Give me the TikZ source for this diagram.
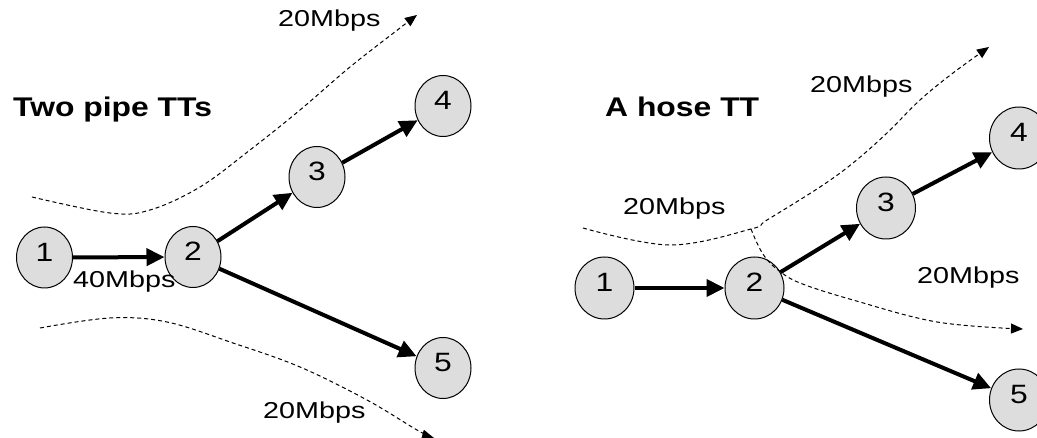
\documentclass[tikz,border=0pt]{standalone}
\usepackage{fontspec}
\setmainfont{Liberation Sans}
\newfontfamily\labfont[FakeStretch=1.25]{Liberation Sans}
\newfontfamily\numfont[FakeStretch=1.2]{Liberation Sans}
\newfontfamily\titfont[FakeStretch=1.18]{Liberation Sans}
\usetikzlibrary{shapes.geometric,arrows.meta}
\definecolor{nodegray}{HTML}{DDDDDD}
\tikzset{
  tnode/.style={ellipse, draw, line width=1pt, fill=nodegray, inner sep=0pt,
    minimum width=56pt, minimum height=61pt,
    font=\numfont\fontsize{26.5}{26.5}\selectfont, text depth=11pt},
  tnodeR/.style={tnode, minimum width=59pt, minimum height=62pt},
  link/.style={line width=4pt, -{Triangle[length=18pt,width=17pt]}},
  flow/.style={line width=1pt, dash pattern=on 4pt off 3pt,
    -{Triangle[length=12pt,width=10pt]}},
  lab/.style={font=\labfont\fontsize{23}{23}\selectfont, inner sep=0pt, anchor=base west},
  tit/.style={font=\titfont\bfseries\fontsize{27}{27}\selectfont, inner sep=0pt, anchor=base west}
}
\begin{document}
\begin{tikzpicture}[x=1pt,y=-1pt]
\useasboundingbox (0,0) rectangle (1037,438);
% ---------- left: two pipe TTs ----------
\node[tnode] (l1) at (44.5,257.5) {1};
\node[tnode] (l2) at (193,257) {2};
\node[tnode] (l3) at (317,177) {3};
\node[tnode] (l4) at (443,106) {4};
\node[tnode] (l5) at (443,368) {5};
\draw[link] (l1) -- (l2);
\draw[link] (l2) -- (l3);
\draw[link] (l3) -- (l4);
\draw[link] (l2) -- (l5);
\draw[flow] plot[smooth, tension=0.6] coordinates {(32,197) (110,213) (150,210) (200,187) (250,150) (300,110) (350,67) (400,28) (417,15)};
\draw[flow] plot[smooth, tension=0.6] coordinates {(40,328) (110,318) (167,322) (233,343) (300,367) (367,400) (417,430) (434,438)};
\node[tit] (t1) at (13,117) {Two pipe TTs};
\node[lab] (a1) at (278,27) {20Mbps};
\node[lab] (a2) at (263,419) {20Mbps};
\node[lab] (a3) at (73,288) {40Mbps};
% ---------- right: a hose TT ----------
\node[tnodeR] (r1) at (604.5,288) {1};
\node[tnodeR] (r2) at (754.5,288) {2};
\node[tnodeR] (r3) at (886,208) {3};
\node[tnodeR] (r4) at (1019,138) {4};
\node[tnodeR] (r5) at (1019,400) {5};
\draw[link] (r1) -- (r2);
\draw[link] (r2) -- (r3);
\draw[link] (r3) -- (r4);
\draw[link] (r2) -- (r5);
\draw[flow] plot[smooth, tension=0.6] coordinates {(583,228) (670,245) (751,229) (767,220) (820,187) (853,163) (887,133) (920,100) (953,73) (989,47)};
\draw[flow] plot[smooth, tension=0.6] coordinates {(751,229) (757,243) (765,257) (778,270) (800,283) (853,300) (937,322) (1023,329)};
\node[tit] (t2) at (605,117) {A hose TT};
\node[lab] (b1) at (810,93) {20Mbps};
\node[lab] (b2) at (623,215) {20Mbps};
\node[lab] (b3) at (917,284) {20Mbps};
\end{tikzpicture}
\end{document}
